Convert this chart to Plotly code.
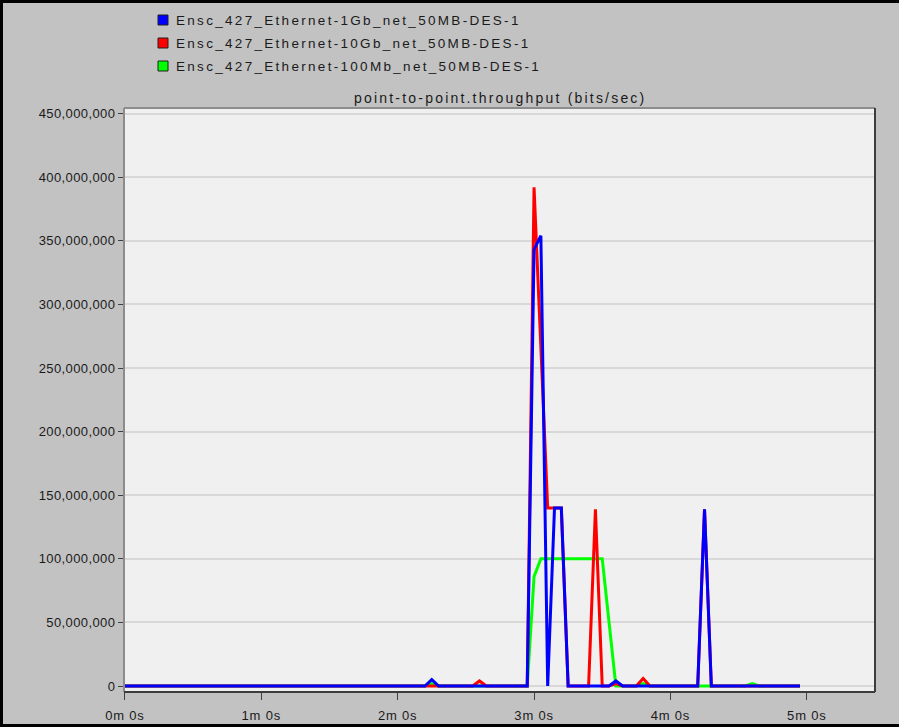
import plotly.graph_objects as go

# Throughput samples (seconds, bits/sec) for each run; samples are 3 s apart,
# only the points where the curve changes are listed.
gb1_t = [0, 132, 135, 138, 177, 180, 183, 186, 189, 192, 195, 213, 216, 219, 252, 255, 258, 297]
gb1_v = [0, 0, 5e6, 0, 0, 343e6, 354e6, 0, 140e6, 140e6, 0, 0, 4e6, 0, 0, 139e6, 0, 0]

gb10_t = [0, 153, 156, 159, 177, 180, 183, 186, 189, 192, 195, 204, 207, 210, 213, 216, 219,
          225, 228, 231, 252, 255, 258, 297]
gb10_v = [0, 0, 4e6, 0, 0, 392e6, 266e6, 140e6, 140e6, 140e6, 0, 0, 139e6, 0, 0, 2e6, 0,
          0, 6e6, 0, 0, 139e6, 0, 0]

mb100_t = [0, 132, 135, 138, 177, 180, 183, 210, 213, 216, 225, 228, 231, 273, 276, 279, 297]
mb100_v = [0, 0, 2e6, 0, 0, 86e6, 100e6, 100e6, 50e6, 0, 0, 2e6, 0, 0, 2e6, 0, 0]

series_names = [
    "Ensc_427_Ethernet-1Gb_net_50MB-DES-1",
    "Ensc_427_Ethernet-10Gb_net_50MB-DES-1",
    "Ensc_427_Ethernet-100Mb_net_50MB-DES-1",
]
series_colors = ["#0000ff", "#ff0000", "#00ff00"]

y_ticks = [0, 50e6, 100e6, 150e6, 200e6, 250e6, 300e6, 350e6, 400e6, 450e6]
x_ticks = [0, 60, 120, 180, 240, 300]
x_labels = ["0m 0s", "1m 0s", "2m 0s", "3m 0s", "4m 0s", "5m 0s"]
chart_title = "point-to-point.throughput (bits/sec)"

W, H = 899, 727
L, R, T, B = 124, 875, 108, 692
FONT = "Liberation Sans, Arial, sans-serif"


def px(x):
    return (x - L) / (R - L)


def py(y):
    return (B - y) / (B - T)


def spaced(s, ls):
    return f'<span style="letter-spacing:{ls}px">{s}</span>'


fig = go.Figure()
# draw order: 100Mb underneath, 1Gb on top
for t, v, i in [(mb100_t, mb100_v, 2), (gb10_t, gb10_v, 1), (gb1_t, gb1_v, 0)]:
    fig.add_trace(go.Scatter(x=t, y=v, mode="lines", showlegend=False,
                             line=dict(color=series_colors[i], width=3),
                             name=series_names[i], hoverinfo="skip"))

shapes = []
annotations = []

# legend block
for i, (name, col) in enumerate(zip(series_names, series_colors)):
    yc = 20 + i * 23
    shapes.append(dict(type="rect", xref="paper", yref="paper",
                       x0=px(158), x1=px(168), y0=py(yc + 5), y1=py(yc - 5),
                       fillcolor=col, line=dict(color="#202020", width=1)))
    annotations.append(dict(text=spaced(name, 2.3), xref="paper", yref="paper",
                            x=px(174), y=py(yc), xanchor="left", yanchor="middle",
                            showarrow=False, font=dict(family=FONT, size=13.5, color="#1a1a1a")))

annotations.append(dict(text=spaced(chart_title, 2.2), xref="paper", yref="paper",
                        x=px(500), y=py(98), xanchor="center", yanchor="middle",
                        showarrow=False, font=dict(family=FONT, size=14, color="#1a1a1a")))

# plot frame: light top/left, dark bottom/right
shapes += [
    dict(type="line", xref="paper", yref="paper", x0=0, x1=1, y0=1, y1=1,
         line=dict(color="#8c8c8c", width=2)),
    dict(type="line", xref="paper", yref="paper", x0=0, x1=0, y0=0, y1=1,
         line=dict(color="#8c8c8c", width=2)),
    dict(type="line", xref="paper", yref="paper", x0=0, x1=1, y0=0, y1=0,
         line=dict(color="#3c3c3c", width=2)),
    dict(type="line", xref="paper", yref="paper", x0=1, x1=1, y0=0, y1=1,
         line=dict(color="#3c3c3c", width=2)),
]
# outer black border of the panel
shapes += [
    dict(type="line", xref="paper", yref="paper", x0=px(0), x1=px(W), y0=py(1.5), y1=py(1.5),
         line=dict(color="#000000", width=3)),
    dict(type="line", xref="paper", yref="paper", x0=px(1.5), x1=px(1.5), y0=py(0), y1=py(H),
         line=dict(color="#000000", width=3)),
    dict(type="line", xref="paper", yref="paper", x0=px(0), x1=px(W), y0=py(725.5), y1=py(725.5),
         line=dict(color="#000000", width=3)),
]

fig.update_layout(
    width=W, height=H,
    margin=dict(l=L, r=W - R, t=T, b=H - B, pad=0, autoexpand=False),
    paper_bgcolor="#c2c2c2",
    plot_bgcolor="#f0f0f0",
    font=dict(family=FONT, size=12, color="#1a1a1a"),
    shapes=shapes,
    annotations=annotations,
    showlegend=False,
    xaxis=dict(range=[-0.4, 330], tickvals=x_ticks,
               ticktext=[spaced(s, 0.8) for s in x_labels],
               showgrid=False, zeroline=False, showline=False,
               ticks="outside", ticklen=7, tickcolor="#404040", tickwidth=1,
               ticklabelstandoff=4, automargin=False,
               tickfont=dict(size=13)),
    yaxis=dict(range=[-4.7e6, 454.4e6], tickvals=y_ticks,
               ticktext=[spaced(f"{int(v):,}", 0.4) for v in y_ticks],
               showgrid=True, gridcolor="#d8d8d8", gridwidth=2,
               zeroline=False, showline=False, automargin=False,
               ticks="outside", ticklen=5, tickcolor="#404040", tickwidth=1,
               tickfont=dict(size=13)),
)

fig.write_html("out.html")
